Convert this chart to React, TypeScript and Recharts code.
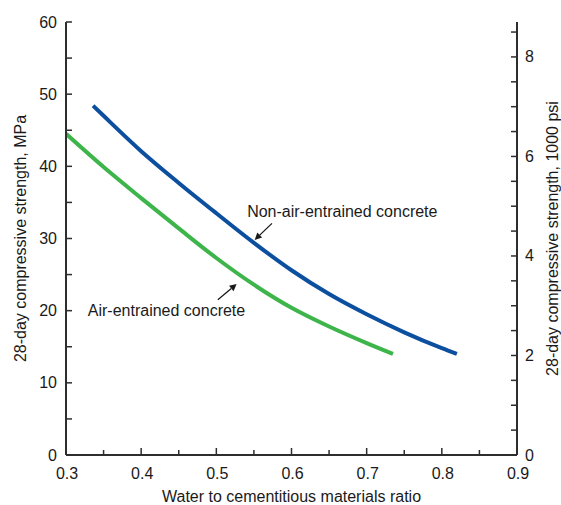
import {
  LineChart,
  Line,
  XAxis,
  YAxis,
  ReferenceDot,
  ReferenceLine,
} from 'recharts'

// water / cementitious materials ratio vs 28-day strength (MPa)
const nonAirRatio = [0.336, 0.35, 0.4, 0.45, 0.5, 0.55, 0.6, 0.65, 0.7, 0.75, 0.8, 0.82]
const nonAirStrength = [48.4, 47.0, 42.1, 37.7, 33.5, 29.4, 25.6, 22.3, 19.5, 17.0, 14.8, 14.0]

const airRatio = [0.3, 0.35, 0.4, 0.45, 0.5, 0.55, 0.6, 0.65, 0.7, 0.735]
const airStrength = [44.5, 39.9, 35.6, 31.4, 27.3, 23.6, 20.4, 17.8, 15.5, 14.0]

const xTicks = [0.3, 0.35, 0.4, 0.45, 0.5, 0.55, 0.6, 0.65, 0.7, 0.75, 0.8, 0.85, 0.9]
const mpaTicks = [0, 5, 10, 15, 20, 25, 30, 35, 40, 45, 50, 55, 60]
const psiTicks = [0, 0.5, 1, 1.5, 2, 2.5, 3, 3.5, 4, 4.5, 5, 5.5, 6, 6.5, 7, 7.5, 8, 8.5]

const MPA_MAX = 60
const PSI_MAX = 60 / 6.895

const nonAirData = nonAirRatio.map((w, i) => ({ w, s: nonAirStrength[i] }))
const airData = airRatio.map((w, i) => ({ w, s: airStrength[i] }))

const FONT = '"Liberation Sans", Arial, sans-serif'
const FS = 16
const TXT = '#1a1a1a'
const AX = '#2e2e2e'

const LeftTick = (props: any) => {
  const { x, y, payload } = props
  const ax = x + 9
  const major = payload.value % 10 === 0
  return (
    <g>
      <line x1={ax} x2={ax + 6} y1={y} y2={y} stroke={AX} strokeWidth={1.5} />
      {major && (
        <text x={x} y={y} textAnchor="end" dominantBaseline="central" fontSize={FS} fill={TXT} fontFamily={FONT}>
          {payload.value}
        </text>
      )}
    </g>
  )
}

const RightTick = (props: any) => {
  const { x, y, payload } = props
  const ax = x - 8
  const major = payload.value % 2 === 0
  return (
    <g>
      <line x1={ax} x2={ax - 6} y1={y} y2={y} stroke={AX} strokeWidth={1.5} />
      {major && (
        <text x={x} y={y} textAnchor="start" dominantBaseline="central" fontSize={FS} fill={TXT} fontFamily={FONT}>
          {payload.value}
        </text>
      )}
    </g>
  )
}

const BottomTick = (props: any) => {
  const { x, y, payload } = props
  const ay = y
  const major = Math.round(payload.value * 100) % 10 === 0
  return (
    <g>
      <line x1={x} x2={x} y1={ay} y2={ay - (major ? 7 : 5)} stroke={AX} strokeWidth={1.5} />
      {major && (
        <text x={x + 1} y={ay + 18} textAnchor="middle" dominantBaseline="central" fontSize={FS} fill={TXT} fontFamily={FONT}>
          {payload.value.toFixed(1)}
        </text>
      )}
    </g>
  )
}

const Arrow = (props: any) => {
  const { x1, y1, x2, y2 } = props
  const dx = x2 - x1
  const dy = y2 - y1
  const len = Math.sqrt(dx * dx + dy * dy)
  const ux = dx / len
  const uy = dy / len
  const hl = 7
  const hw = 3.5
  const bx = x2 - ux * hl
  const by = y2 - uy * hl
  return (
    <g>
      <line x1={x1} y1={y1} x2={bx} y2={by} stroke="#1a1a1a" strokeWidth={1.3} />
      <polygon
        points={`${x2},${y2} ${bx - uy * hw},${by + ux * hw} ${bx + uy * hw},${by - ux * hw}`}
        fill="#1a1a1a"
      />
    </g>
  )
}

const textShape = (label: string) => (props: any) => (
  <text x={props.cx} y={props.cy} dominantBaseline="central" fontSize={FS} fill={TXT} fontFamily={FONT}>
    {label}
  </text>
)

export default function App() {
  return (
    <div style={{ width: 561, height: 505, background: '#fff' }}>
      <style>{'body{margin:0}'}</style>
      <LineChart
        width={561}
        height={505}
        margin={{ top: 22, right: 0, bottom: 0, left: 0 }}
        style={{ fontFamily: FONT }}
      >
        <XAxis
          xAxisId="top"
          orientation="top"
          type="number"
          domain={[0.3, 0.9]}
          height={0}
          tick={false}
          tickLine={false}
          axisLine={{ stroke: AX, strokeWidth: 2 }}
        />
        <XAxis
          dataKey="w"
          type="number"
          domain={[0.3, 0.9]}
          ticks={xTicks}
          interval={0}
          height={50}
          tickSize={0}
          tickMargin={0}
          tickLine={false}
          tick={<BottomTick />}
          axisLine={{ stroke: AX, strokeWidth: 2 }}
          allowDataOverflow
          label={{
            content: (p: any) => (
              <text
                x={p.viewBox.x + p.viewBox.width / 2}
                y={p.viewBox.y + 41}
                textAnchor="middle"
                dominantBaseline="central"
                fontSize={FS}
                fill={TXT}
                fontFamily={FONT}
              >
                Water to cementitious materials ratio
              </text>
            ),
          }}
        />
        <YAxis
          yAxisId="mpa"
          orientation="left"
          type="number"
          domain={[0, MPA_MAX]}
          ticks={mpaTicks}
          interval={0}
          width={66}
          tickSize={0}
          tickMargin={9}
          tickLine={false}
          tick={<LeftTick />}
          axisLine={{ stroke: AX, strokeWidth: 2 }}
          label={{
            content: (p: any) => {
              const cx = p.viewBox.x + 20
              const cy = p.viewBox.y + p.viewBox.height / 2
              return (
                <text
                  x={cx}
                  y={cy}
                  transform={`rotate(-90 ${cx} ${cy})`}
                  textAnchor="middle"
                  dominantBaseline="central"
                  fontSize={FS}
                  fill={TXT}
                  fontFamily={FONT}
                >
                  28-day compressive strength, MPa
                </text>
              )
            },
          }}
        />
        <YAxis
          yAxisId="psi"
          orientation="right"
          type="number"
          domain={[0, PSI_MAX]}
          ticks={psiTicks}
          interval={0}
          width={44}
          tickSize={0}
          tickMargin={8}
          tickLine={false}
          tick={<RightTick />}
          axisLine={{ stroke: AX, strokeWidth: 2 }}
          allowDataOverflow
          label={{
            content: (p: any) => {
              const cx = p.viewBox.x + 35
              const cy = p.viewBox.y + p.viewBox.height / 2
              return (
                <text
                  x={cx}
                  y={cy}
                  transform={`rotate(-90 ${cx} ${cy})`}
                  textAnchor="middle"
                  dominantBaseline="central"
                  fontSize={FS}
                  fill={TXT}
                  fontFamily={FONT}
                >
                  28-day compressive strength, 1000 psi
                </text>
              )
            },
          }}
        />
        <Line
          yAxisId="mpa"
          data={nonAirData}
          dataKey="s"
          type="monotone"
          stroke="#0b4f9e"
          strokeWidth={4}
          dot={false}
          isAnimationActive={false}
        />
        <Line
          yAxisId="mpa"
          data={airData}
          dataKey="s"
          type="monotone"
          stroke="#3db54a"
          strokeWidth={4}
          dot={false}
          isAnimationActive={false}
        />
        <ReferenceDot yAxisId="mpa" x={0.541} y={33.7} r={0} shape={textShape('Non-air-entrained concrete')} />
        <ReferenceDot yAxisId="mpa" x={0.329} y={20} r={0} shape={textShape('Air-entrained concrete')} />
        <ReferenceLine
          yAxisId="mpa"
          segment={[{ x: 0.574, y: 32.1 }, { x: 0.551, y: 29.8 }]}
          shape={Arrow}
        />
        <ReferenceLine
          yAxisId="mpa"
          segment={[{ x: 0.502, y: 21.5 }, { x: 0.527, y: 23.7 }]}
          shape={Arrow}
        />
      </LineChart>
    </div>
  )
}
